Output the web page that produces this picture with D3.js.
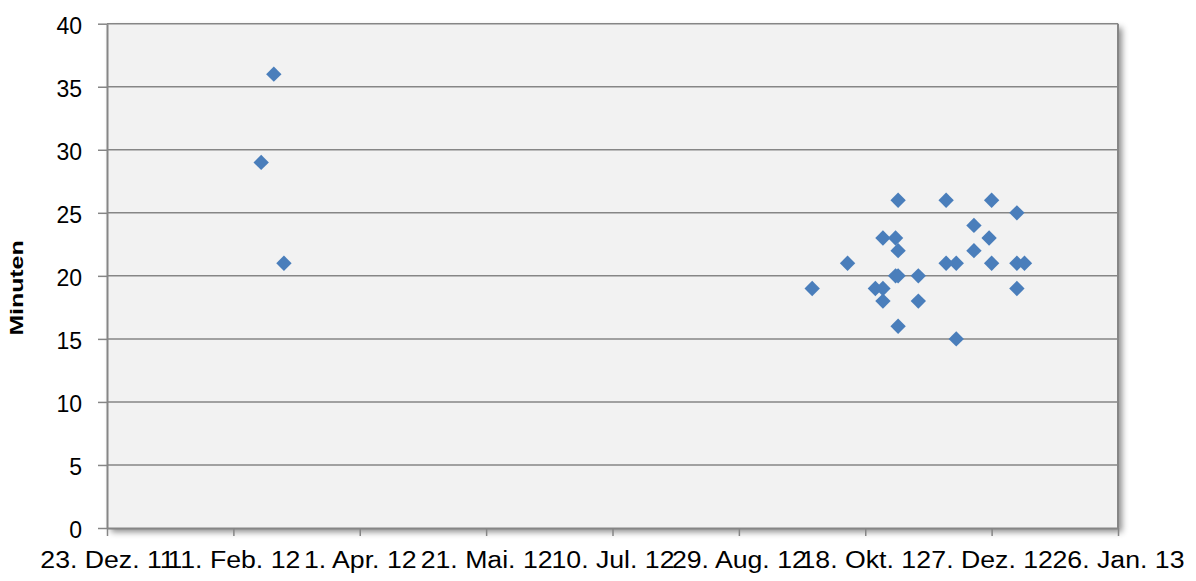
<!DOCTYPE html>
<html><head><meta charset="utf-8">
<script src="https://cdn.jsdelivr.net/npm/d3@7"></script>
<style>body{margin:0;background:#fff}svg{display:block}</style>
</head><body><svg id="c" width="1196" height="581"></svg>
<script>
const tickDates = ["2011-12-23","2012-02-11","2012-04-01","2012-05-21","2012-07-10","2012-08-29","2012-10-18","2012-12-07","2013-01-26"];
const tickLabels = ["23. Dez. 11","11. Feb. 12","1. Apr. 12","21. Mai. 12","10. Jul. 12","29. Aug. 12","18. Okt. 12","7. Dez. 12","26. Jan. 13"];
const yTicks = [0,5,10,15,20,25,30,35,40];
const dates = ["2012-02-22","2012-02-27","2012-03-02","2012-09-27","2012-10-11","2012-10-22","2012-10-25","2012-10-25","2012-10-25","2012-10-30","2012-10-30","2012-10-31","2012-10-31","2012-10-31","2012-10-31","2012-11-08","2012-11-08","2012-11-19","2012-11-19","2012-11-23","2012-11-23","2012-11-30","2012-11-30","2012-12-06","2012-12-07","2012-12-07","2012-12-17","2012-12-17","2012-12-17","2012-12-20"];
const minutes = [29,36,21,19,21,19,23,19,18,23,20,26,22,20,16,20,18,26,21,21,15,24,22,23,26,21,25,21,19,21];
const yTitle = "Minuten";

const parse = d3.utcParse("%Y-%m-%d");
const L = 107, R = 1118, T = 23.7, B = 528;
const svg = d3.select("#c");
const x = d3.scaleUtc().domain([parse(tickDates[0]), parse(tickDates[tickDates.length-1])]).range([L, R]);
const y = d3.scaleLinear().domain([0, 40]).range([B, T]);

const defs = svg.append("defs");
const f = defs.append("filter").attr("id","sh").attr("x","-5%").attr("y","-5%").attr("width","115%").attr("height","115%");
f.append("feDropShadow").attr("dx",4).attr("dy",4).attr("stdDeviation",3).attr("flood-color","#000").attr("flood-opacity",0.45);

svg.append("rect").attr("x",L).attr("y",T).attr("width",R-L).attr("height",B-T)
  .attr("fill","#f2f2f2").attr("filter","url(#sh)");

svg.append("g").selectAll("line").data(yTicks.filter(v=>v>0)).join("line")
  .attr("x1",L).attr("x2",R).attr("y1",d=>y(d)).attr("y2",d=>y(d))
  .attr("stroke","#868686").attr("stroke-width",1.5);
svg.append("line").attr("x1",R).attr("x2",R).attr("y1",T).attr("y2",B).attr("stroke","#868686").attr("stroke-width",2);

const ya = svg.append("g").attr("transform",`translate(${L},0)`)
  .call(d3.axisLeft(y).tickValues(yTicks).tickSize(9).tickPadding(16).tickSizeOuter(0));
ya.select(".domain").attr("stroke","#868686").attr("stroke-width",2);
ya.selectAll(".tick line").attr("stroke","#868686").attr("stroke-width",1.5);
ya.selectAll(".tick text").attr("font-family","'Liberation Sans', Arial, sans-serif").attr("font-size",23).attr("fill","#000").attr("dy","0.43em");

const xa = svg.append("g").attr("transform",`translate(0,${B})`)
  .call(d3.axisBottom(x).tickValues(tickDates.map(parse)).tickFormat((d,i)=>tickLabels[i]).tickSize(8).tickPadding(16).tickSizeOuter(0));
xa.select(".domain").attr("stroke","#868686").attr("stroke-width",2);
xa.selectAll(".tick line").attr("stroke","#868686").attr("stroke-width",1.5);
xa.selectAll(".tick text").attr("font-family","'Liberation Sans', Arial, sans-serif").attr("font-size",23).attr("fill","#000").attr("dy","0.71em")
  .attr("transform","scale(1.16,1)");

svg.append("text").attr("transform",`translate(23,288) rotate(-90) scale(1.38,1)`)
  .attr("text-anchor","middle").attr("font-family","'Liberation Sans', Arial, sans-serif")
  .attr("font-weight","bold").attr("font-size",18).text(yTitle);

const sym = d3.symbol(d3.symbolSquare, 118);
svg.append("g").selectAll("path").data(dates.map((d,i)=>({d:parse(d),v:minutes[i]}))).join("path")
  .attr("d",sym).attr("transform",p=>`translate(${x(p.d)},${y(p.v)}) rotate(45)`)
  .attr("fill","#4a7ebb");
</script></body></html>
